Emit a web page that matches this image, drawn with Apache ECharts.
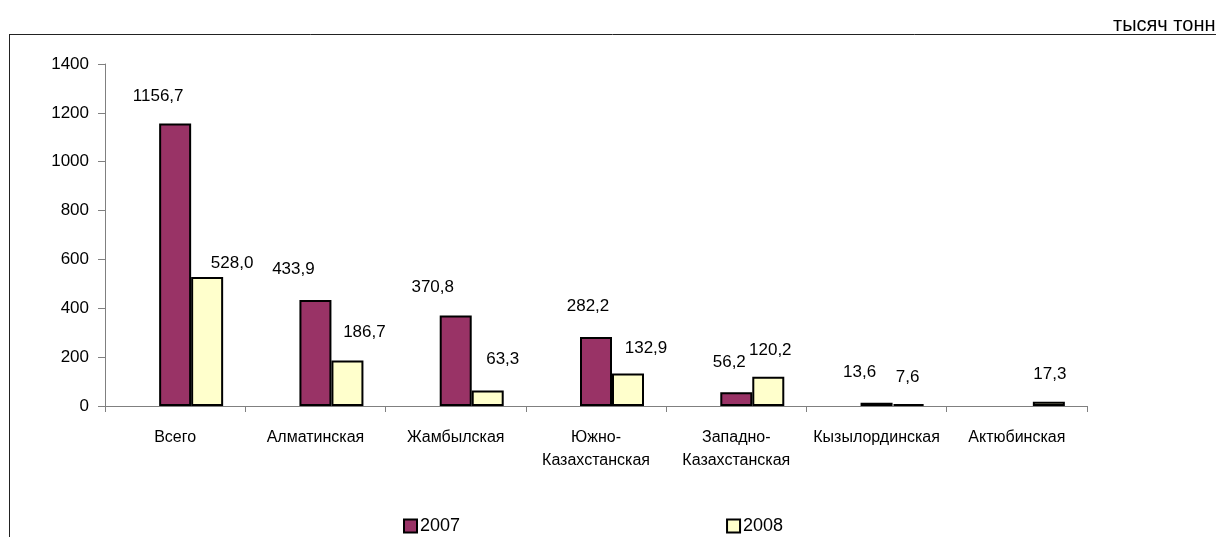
<!DOCTYPE html>
<html>
<head>
<meta charset="utf-8">
<script src="https://cdn.jsdelivr.net/npm/echarts@6/dist/echarts.min.js"></script>
<style>
html,body{margin:0;padding:0;background:#fff;}
#chart{width:1216px;height:537px;}
</style>
</head>
<body>
<div id="chart"></div>
<script>
const categories = ['Всего', 'Алматинская', 'Жамбылская', 'Южно-\nКазахстанская', 'Западно-\nКазахстанская', 'Кызылординская', 'Актюбинская'];
const seriesNames = ['2007', '2008'];
const values2007 = [1156.7, 433.9, 370.8, 282.2, 56.2, 13.6, null];
const values2008 = [528.0, 186.7, 63.3, 132.9, 120.2, 7.6, 17.3];
const unitText = 'тысяч тонн';

// label layout (pixel offsets of the data labels, as placed in the original)
const labelShift2007 = [[-17, -14], [-22, -17], [-23, -15], [-8, -17], [-7, -16], [-17, -17], [0, 0]];
const labelShift2008 = [[25, 0], [17, -15], [15, -18], [18, -12], [2, -13], [-1, -13], [1, -14]];

const fmt = v => v.toFixed(1).replace('.', ',');
function build(values, shifts) {
  return values.map((v, i) => ({
    value: v,
    label: { offset: shifts[i] }
  }));
}

const chart = echarts.init(document.getElementById('chart'), null, { renderer: 'canvas' });
const font = 'Liberation Sans, Arial, sans-serif';
const labelStyle = {
  show: true, position: 'top', distance: 5,
  fontFamily: font, fontSize: 17, color: '#000',
  formatter: p => (p.value == null ? '' : fmt(p.value))
};

chart.setOption({
  animation: false,
  backgroundColor: '#fff',
  title: {
    text: unitText, left: 1108, top: 10,
    textStyle: { fontFamily: font, fontSize: 20, fontWeight: 'normal', color: '#000' }
  },
  graphic: [
    { type: 'line', shape: { x1: 9, y1: 34.5, x2: 1216, y2: 34.5 }, style: { stroke: '#222', lineWidth: 1 } },
    { type: 'line', shape: { x1: 9.5, y1: 34.5, x2: 9.5, y2: 537 }, style: { stroke: '#222', lineWidth: 1 } }
  ],
  grid: { left: 105, right: 129, top: 64, bottom: 131, containLabel: false },
  legend: {
    data: seriesNames, left: 398, top: 512,
    icon: 'rect', itemWidth: 13, itemHeight: 13, itemGap: 266,
    textStyle: { fontFamily: font, fontSize: 18, color: '#000', padding: [0, 0, 0, -2] }
  },
  xAxis: {
    type: 'category', data: categories, boundaryGap: true,
    axisLine: { lineStyle: { color: '#808080', width: 1 } },
    axisTick: { show: true, length: 6, lineStyle: { color: '#808080' } },
    axisLabel: { fontFamily: font, fontSize: 16, color: '#000', margin: 20, lineHeight: 23, interval: 0 }
  },
  yAxis: {
    type: 'value', min: 0, max: 1400, interval: 200,
    axisLine: { show: true, lineStyle: { color: '#808080', width: 1 } },
    axisTick: { show: true, length: 7, lineStyle: { color: '#808080' } },
    splitLine: { show: false },
    axisLabel: { fontFamily: font, fontSize: 17, color: '#000', margin: 16, formatter: v => String(v) }
  },
  series: [
    { name: 'spacer', type: 'bar', barWidth: 32, barGap: '0%', data: categories.map(() => null), silent: true, itemStyle: { color: 'transparent' } },
    { name: seriesNames[0], type: 'bar', barWidth: 32, barGap: '0%',
      itemStyle: { color: '#993366', borderColor: '#000', borderWidth: 2 },
      label: labelStyle, data: build(values2007, labelShift2007) },
    { name: seriesNames[1], type: 'bar', barWidth: 32, barGap: '0%',
      itemStyle: { color: '#FFFFCC', borderColor: '#000', borderWidth: 2 },
      label: labelStyle, data: build(values2008, labelShift2008) }
  ]
});
</script>
</body>
</html>
